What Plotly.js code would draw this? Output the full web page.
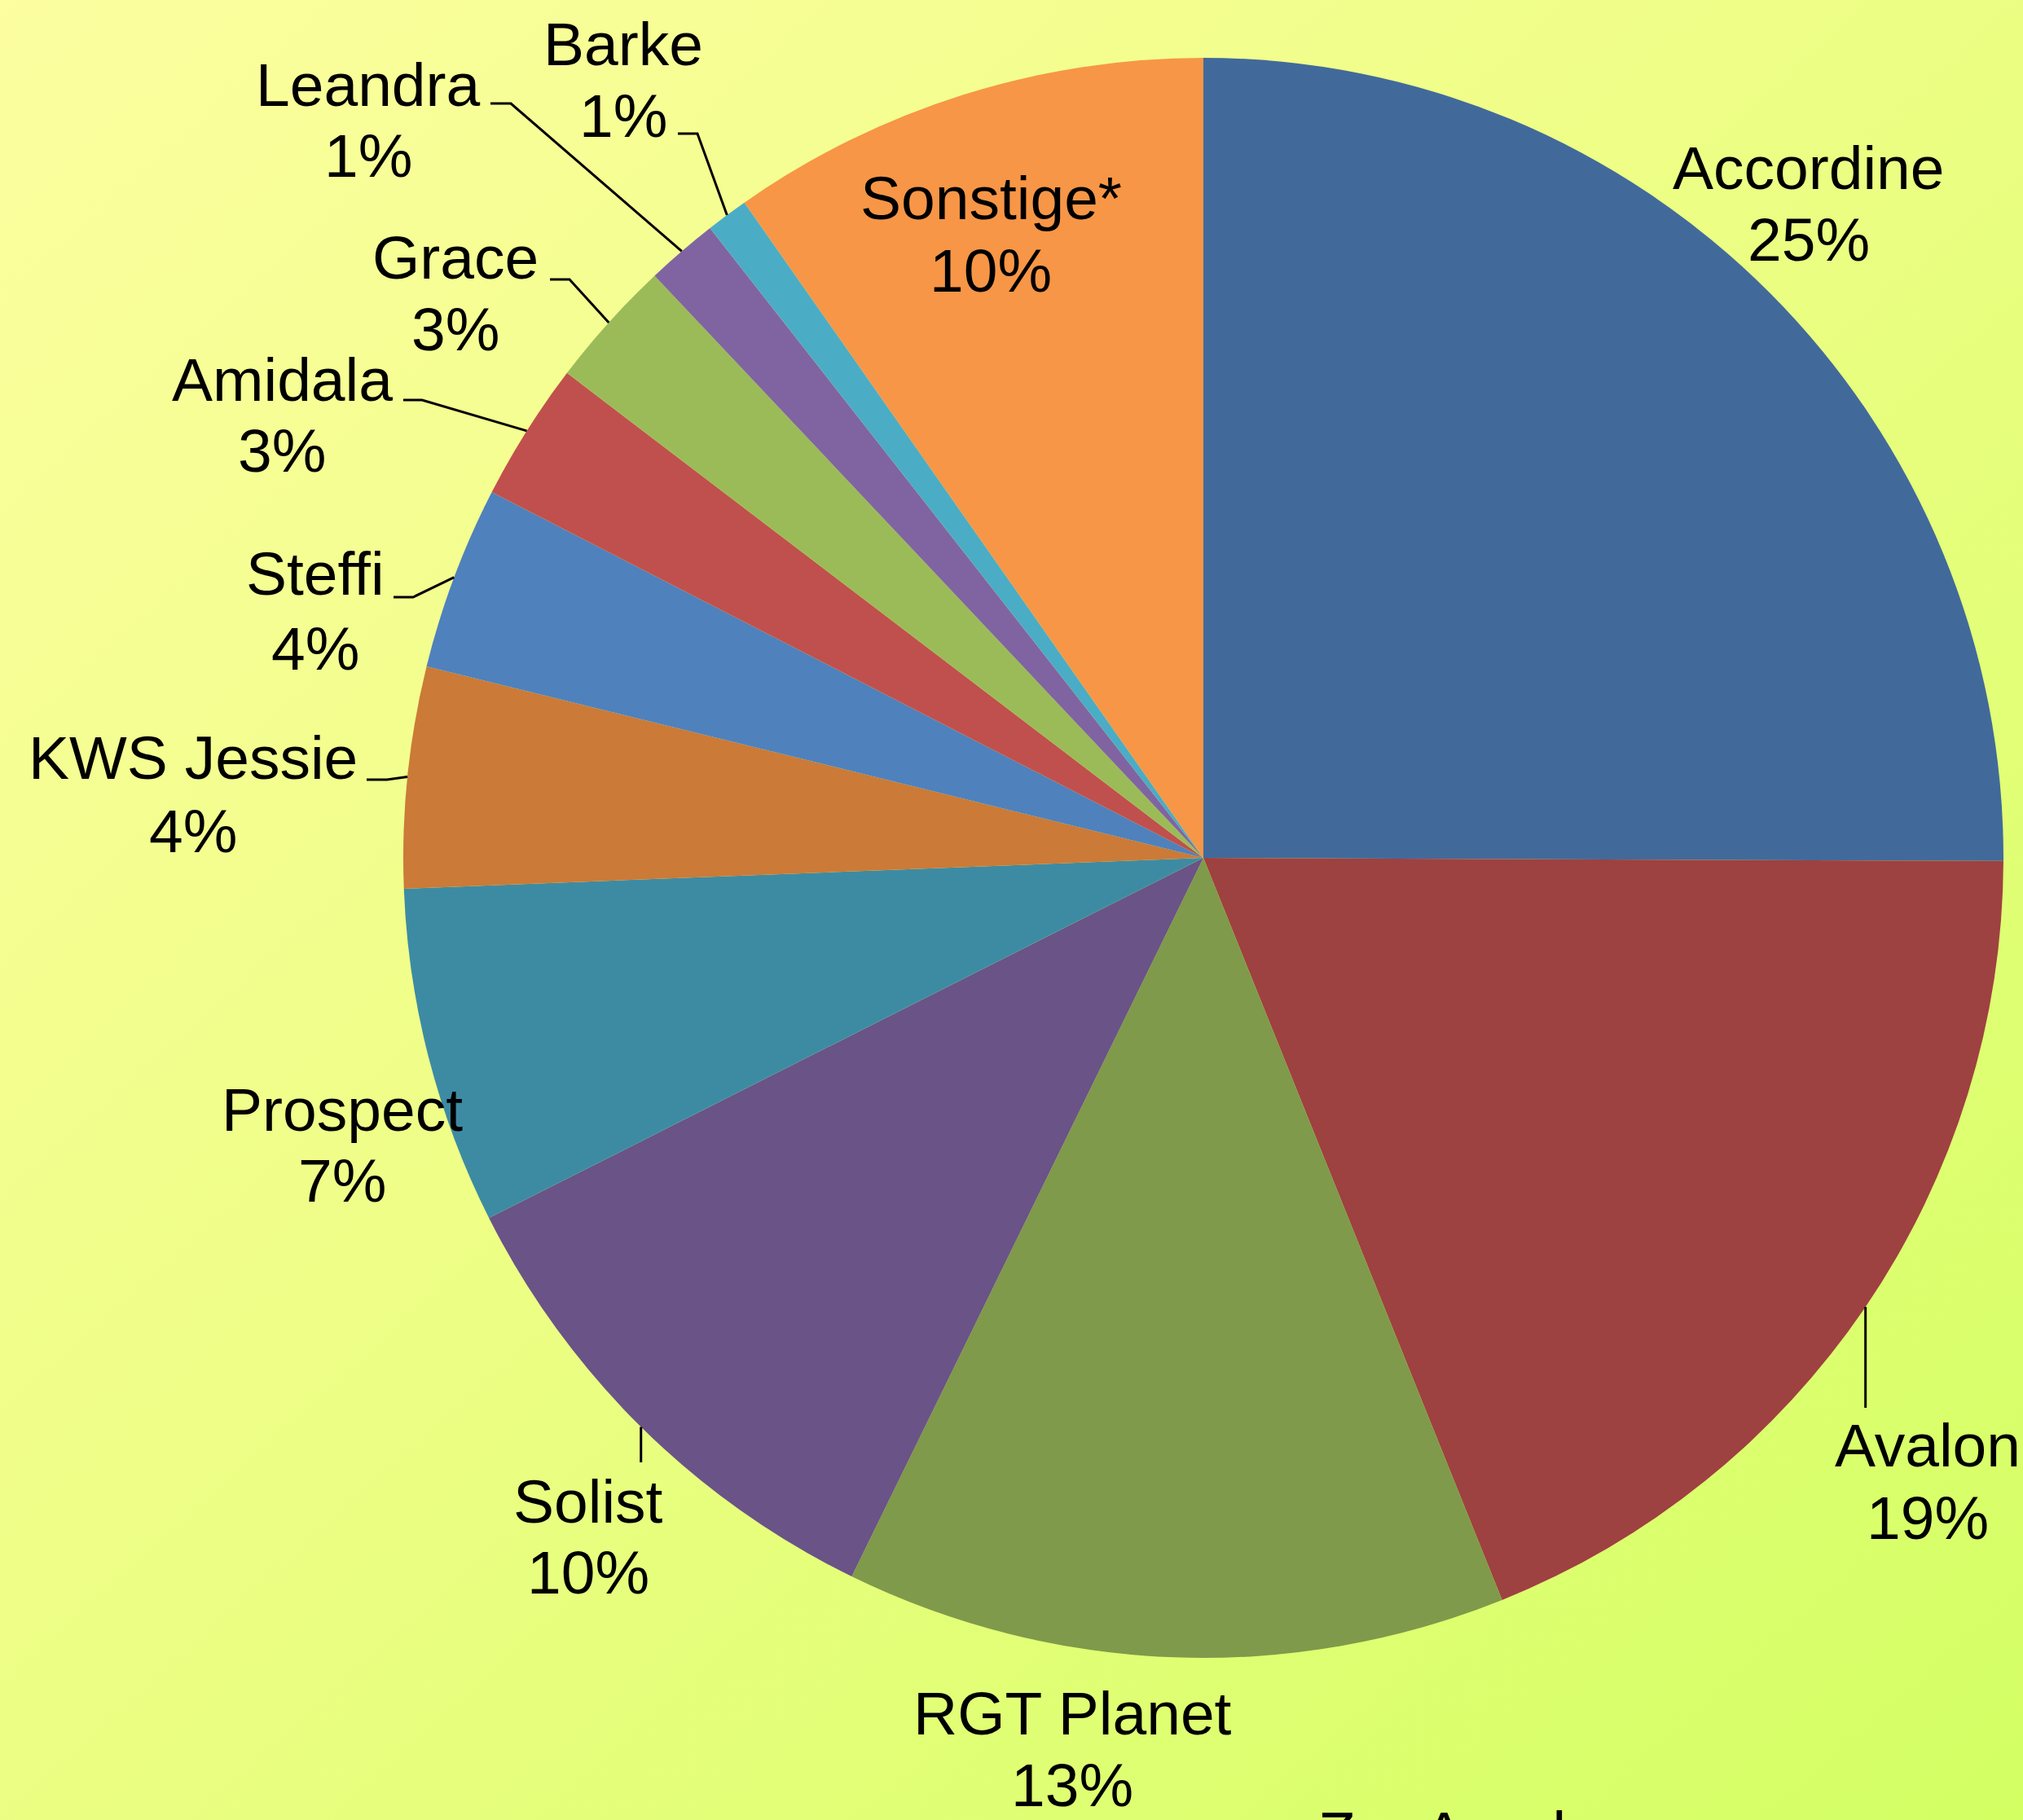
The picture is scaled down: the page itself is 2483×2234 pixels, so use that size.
<!DOCTYPE html>
<html>
<head>
<meta charset="utf-8">
<script src="https://cdn.plot.ly/plotly-3.0.1.min.js"></script>
<style>
  html, body { margin: 0; padding: 0; }
  body {
    width: 2483px; height: 2234px; overflow: hidden;
    background: linear-gradient(to bottom right, #FCFE9F 0%, #EEFE86 45%, #D3FF63 100%);
  }
  #chart { width: 2483px; height: 2234px; }
</style>
</head>
<body>
<div id="chart"></div>
<script>
// ---------------- data ----------------
const varieties = ["Accordine", "Avalon", "RGT Planet", "Solist", "Prospect", "KWS Jessie",
                   "Steffi", "Amidala", "Grace", "Leandra", "Barke", "Sonstige*"];
const shares = [25.0, 18.8, 13.3, 10.3, 6.8, 4.45, 3.7, 2.8, 2.6, 1.45, 0.85, 9.7];
const footnote = "Zur Anerkennung angemeldete Vermehrungsfläche";

// ---------------- style / layout ----------------
const sliceColors = ["#416A9B", "#9E4141", "#7F9A4A", "#6A5387", "#3D8BA3", "#CB7A38",
                     "#4F81BD", "#C0504D", "#9BBB59", "#8064A2", "#4BACC6", "#F79646"];
const W = 2483, H = 2234;
const FONT = {family: "Liberation Sans, Arial, sans-serif", size: 75, color: "#000000"};
const pieDomain = {x: [495 / W, 2459 / W], y: [1 - 2035 / H, 1 - 71 / H]};

// label placement (pixel centre x, baseline of name line, baseline of percent line)
const labelX     = [2220, 2366, 1316, 722, 420, 237, 387, 346, 559, 452, 765, 1216];
const nameBase   = [232, 1800, 2129, 1869, 1388, 956, 730, 492, 342, 130, 80, 269];
const pctBase    = [320, 1889, 2217, 1956, 1475, 1046, 822, 579, 430, 217, 168, 358];
// leader lines: label-side points (pixels); "v" = vertical drop to the slice edge
const leaderFrom = [
  null,
  "v1728",
  null,
  "v1795",
  null,
  [[450, 957], [475, 957]],
  [[483, 733], [507, 733]],
  [[495, 491], [518, 491]],
  [[675, 343], [699, 343]],
  [[602, 127], [627, 127]],
  [[832, 164], [856, 164]],
  null
];

const px = x => x / W;
const py = y => 1 - y / H;

// pie geometry derived from the domain
const cx = (pieDomain.x[0] + pieDomain.x[1]) / 2 * W;
const cy = (1 - (pieDomain.y[0] + pieDomain.y[1]) / 2) * H;
const R = Math.min((pieDomain.x[1] - pieDomain.x[0]) * W, (pieDomain.y[1] - pieDomain.y[0]) * H) / 2;

const total = shares.reduce((a, b) => a + b, 0);
const pctText = shares.map(v => Math.round(v / total * 100) + "%");

const annotations = [];
const shapes = [];
let cum = 0;
shares.forEach((v, i) => {
  const midAngle = (cum + v / 2) / total * 2 * Math.PI; // clockwise from 12 o'clock
  cum += v;
  annotations.push({
    xref: "paper", yref: "paper", x: px(labelX[i]), y: py(nameBase[i] - 26),
    xanchor: "center", yanchor: "middle", showarrow: false,
    text: varieties[i], font: FONT
  });
  annotations.push({
    xref: "paper", yref: "paper", x: px(labelX[i]), y: py(pctBase[i] - 26),
    xanchor: "center", yanchor: "middle", showarrow: false,
    text: pctText[i], font: FONT
  });
  const lf = leaderFrom[i];
  if (lf) {
    const ex = cx + R * Math.sin(midAngle);
    const ey = cy - R * Math.cos(midAngle);
    let pts;
    if (typeof lf === "string") {
      pts = [[ex, parseFloat(lf.slice(1))], [ex, ey]];
    } else {
      pts = lf.concat([[ex, ey]]);
    }
    const path = pts.map((p, k) => (k === 0 ? "M " : "L ") + px(p[0]) + " " + py(p[1])).join(" ");
    shapes.push({
      type: "path", xref: "paper", yref: "paper", path: path,
      line: {color: "#000000", width: 3}
    });
  }
});

annotations.push({
  xref: "paper", yref: "paper", x: px(1616), y: py(2276 - 26),
  xanchor: "left", yanchor: "middle", showarrow: false,
  text: footnote, font: FONT
});

const trace = {
  type: "pie",
  labels: varieties,
  values: shares,
  sort: false,
  direction: "clockwise",
  rotation: 0,
  textinfo: "none",
  hoverinfo: "label+percent",
  marker: {colors: sliceColors, line: {width: 0}},
  domain: pieDomain,
  showlegend: false
};

const layout = {
  width: W, height: H,
  margin: {l: 0, r: 0, t: 0, b: 0, pad: 0},
  paper_bgcolor: "rgba(0,0,0,0)",
  plot_bgcolor: "rgba(0,0,0,0)",
  showlegend: false,
  font: FONT,
  annotations: annotations,
  shapes: shapes
};

Plotly.newPlot("chart", [trace], layout, {staticPlot: true, displayModeBar: false});
</script>
</body>
</html>
